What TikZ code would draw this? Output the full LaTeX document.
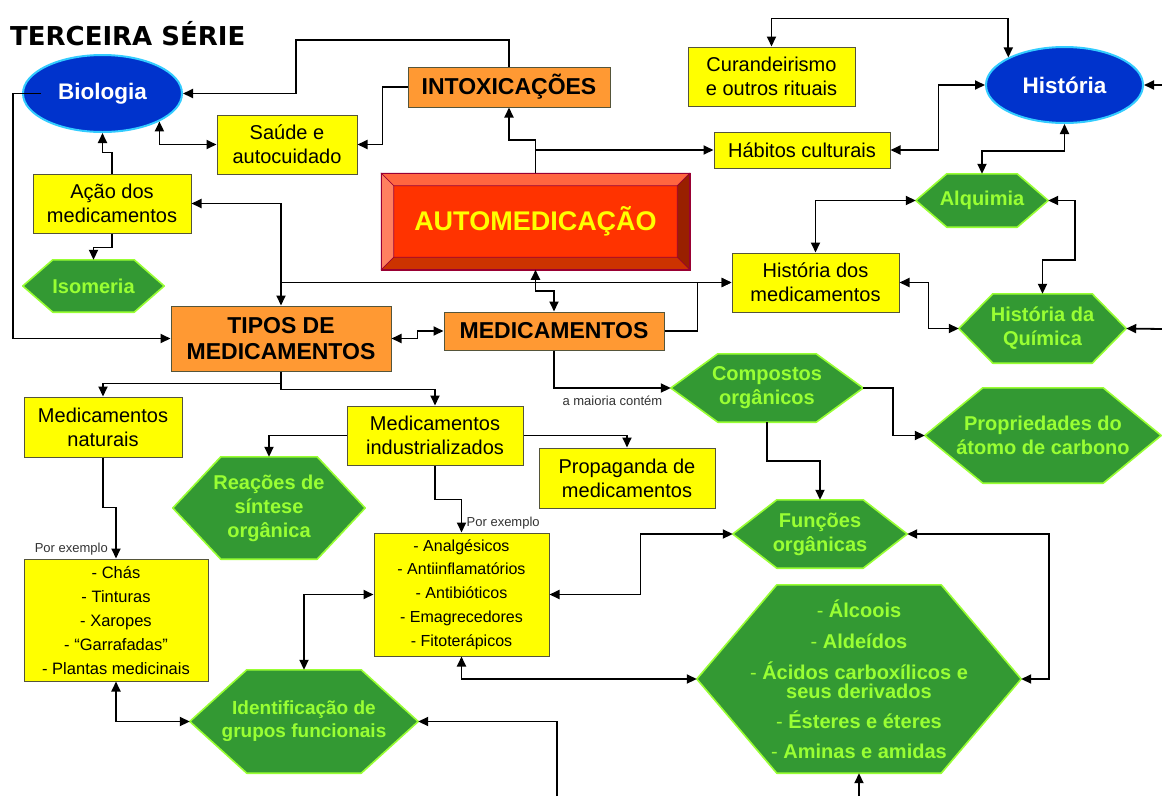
\documentclass[tikz,border=0pt]{standalone}
\usepackage{fontspec}
\setmainfont{Liberation Sans}
\newfontfamily\titlefont{DejaVu Sans}
\usepackage{tikz}
\usetikzlibrary{
  arrows.meta,
  positioning,
  shapes.geometric,
  calc,
  backgrounds
}
\usepackage{xcolor}
\definecolor{mapyellow}{HTML}{FFFF00}
\definecolor{maporange}{HTML}{FF9933}
\definecolor{mapblue}{HTML}{0033CC}
\definecolor{mapcyan}{HTML}{33CCFF}
\definecolor{hexfill}{HTML}{339933}
\definecolor{hexline}{HTML}{99FF33}
\definecolor{boxline}{HTML}{55553A}
\definecolor{autofill}{HTML}{FF3300}
\definecolor{autotop}{HTML}{FF6640}
\definecolor{autoleft}{HTML}{FF8060}
\definecolor{autoright}{HTML}{992000}
\definecolor{autobottom}{HTML}{CC3300}
\definecolor{autoline}{HTML}{990033}
\newcommand{\hexdash}{\textmd{-}}

\begin{document}
\begin{tikzpicture}[
  x=1pt, y=-1pt,
  every node/.style={font=\fontsize{20}{24}\selectfont},
  ybox/.style={draw=boxline, line width=1pt, fill=mapyellow, align=center, inner sep=1pt},
  listbox/.style={ybox, font=\fontsize{16.5}{24}\selectfont},
  obox/.style={draw=boxline, line width=1pt, fill=maporange, align=center, inner sep=1pt,
    font=\bfseries\fontsize{23}{26}\selectfont},
  oval/.style={ellipse, draw=mapcyan, line width=2pt, fill=mapblue, text=white, inner sep=0pt,
    font=\bfseries\fontsize{22.5}{26}\selectfont},
  hexa/.style={text=hexline, align=center, inner sep=0pt, font=\bfseries\fontsize{20}{24}\selectfont},
  hexline/.style={draw=hexline, line width=1.6pt, fill=hexfill, line join=round},
  lbl/.style={font=\fontsize{13}{15}\selectfont, text=black!80, inner sep=1pt},
  arr/.style={draw=black, line width=1.8pt, -{Triangle[length=10pt,width=9pt]}},
  arr2/.style={arr, {Triangle[length=10pt,width=9pt]}-{Triangle[length=10pt,width=9pt]}}
]
  \path[use as bounding box] (0,0) rectangle (1162,796);

  % title
  \node[anchor=west, inner sep=0pt, font=\titlefont\bfseries\fontsize{26}{30}\selectfont]
    (title) at (10,34) {TERCEIRA SÉRIE};

  % disciplines
  \node[oval, minimum width=159, minimum height=77] (bio) at (102.5,93.5) {Biologia};
  \node[oval, minimum width=157, minimum height=76] (hist) at (1064.5,85) {História};

  % central box
  \node[draw=autoline, line width=1.5pt, fill=autofill, minimum width=307, minimum height=95,
    text=mapyellow, font=\bfseries\fontsize{27}{30}\selectfont] (auto) at (535.5,221.5) {AUTOMEDICAÇÃO};
  \fill[autotop, draw=autoline, line width=0.6pt] (auto.north west) -- (auto.north east)
    -- ($(auto.north east)+(-12.5,12.5)$) -- ($(auto.north west)+(12.5,12.5)$) -- cycle;
  \fill[autoleft, draw=autoline, line width=0.6pt] (auto.north west) -- (auto.south west)
    -- ($(auto.south west)+(12.5,-12.5)$) -- ($(auto.north west)+(12.5,12.5)$) -- cycle;
  \fill[autoright, draw=autoline, line width=0.6pt] (auto.north east) -- (auto.south east)
    -- ($(auto.south east)+(-12.5,-12.5)$) -- ($(auto.north east)+(-12.5,12.5)$) -- cycle;
  \fill[autobottom, draw=autoline, line width=0.6pt] (auto.south west) -- (auto.south east)
    -- ($(auto.south east)+(-12.5,-12.5)$) -- ($(auto.south west)+(12.5,-12.5)$) -- cycle;
  \draw[autoline, line width=1.5pt] (auto.north west) rectangle (auto.south east);

  % orange boxes
  \node[obox, minimum width=202, minimum height=40] (intox) at (509,87) {INTOXICAÇÕES};
  \node[obox, minimum width=220, minimum height=65] (tipos) at (281,338.5) {TIPOS DE\\MEDICAMENTOS};
  \node[obox, minimum width=220, minimum height=38] (med) at (554,331) {MEDICAMENTOS};

  % yellow boxes
  \node[ybox, minimum width=140, minimum height=59] (saude) at (287,144.5) {Saúde e\\autocuidado};
  \node[ybox, minimum width=158, minimum height=59] (acao) at (112,203.5) {Ação dos\\medicamentos};
  \node[ybox, minimum width=167, minimum height=59] (cura) at (771.5,76.5) {Curandeirismo\\e outros rituais};
  \node[ybox, minimum width=176, minimum height=36] (habitos) at (802,150) {Hábitos culturais};
  \node[ybox, minimum width=167, minimum height=59] (hmed) at (815.5,282.5) {História dos\\medicamentos};
  \node[ybox, minimum width=158, minimum height=60] (mnat) at (103,427) {Medicamentos\\naturais};
  \node[ybox, minimum width=176, minimum height=59] (mind) at (435,435.5) {Medicamentos\\industrializados};
  \node[ybox, minimum width=176, minimum height=60] (propag) at (627,478) {Propaganda de\\medicamentos};
  \node[listbox, minimum width=184, minimum height=122] (chas) at (116,620)
    {- Chás\\- Tinturas\\- Xaropes\\- “Garrafadas”\\- Plantas medicinais};
  \node[listbox, minimum width=175, minimum height=123, font=\fontsize{16}{23.75}\selectfont]
    (analg) at (461.5,594.5)
    {- Analgésicos\\- Antiinflamatórios\\- Antibióticos\\- Emagrecedores\\- Fitoterápicos};

  % green hexagons (outline drawn behind)
  \node[hexa, minimum width=141, minimum height=52] (isom) at (93.5,286) {Isomeria};
  \node[hexa, minimum width=132, minimum height=53] (alq) at (982,200.5) {Alquimia};
  \node[hexa, minimum width=167, minimum height=69] (hq) at (1042.5,328.5) {História da\\Química};
  \node[hexa, minimum width=192, minimum height=68] (comp) at (767,388) {Compostos\\orgânicos};
  \node[hexa, minimum width=236, minimum height=95] (propr) at (1043,435.5) {Propriedades do\\átomo de carbono};
  \node[hexa, minimum width=174, minimum height=68] (func) at (820,534) {Funções\\orgânicas};
  \node[hexa, minimum width=192, minimum height=102] (reac) at (269,508) {Reações de\\síntese\\orgânica};
  \node[hexa, minimum width=228, minimum height=103, font=\bfseries\fontsize{19}{23}\selectfont]
    (ident) at (304,721.5) {Identificação de\\grupos funcionais};
  \node[hexa, minimum width=324, minimum height=188, font=\bfseries\fontsize{20}{19}\selectfont]
    (big) at (859,679)
    {\hexdash{} Álcoois\\[12pt]\hexdash{} Aldeídos\\[12pt]\hexdash{} Ácidos carboxílicos e\\seus derivados\\[11pt]\hexdash{} Ésteres e éteres\\[11pt]\hexdash{} Aminas e amidas};

  \begin{scope}[on background layer]
    \fill[white] (0,0) rectangle (1162,796);
    \foreach \hx/\cut in {isom/30, alq/31, hq/34, comp/47, propr/58, func/44, reac/48, ident/57, big/80} {
      \path[hexline] (\hx.west) -- ($(\hx.north west)+(\cut,0)$) -- ($(\hx.north east)+(-\cut,0)$)
        -- (\hx.east) -- ($(\hx.south east)+(-\cut,0)$) -- ($(\hx.south west)+(\cut,0)$) -- cycle;
    }
  \end{scope}

  % free ends at the border
  \coordinate (r1) at (1162,85);
  \coordinate (r2) at (1162,329);
  \coordinate (b1) at (859,796);
  \coordinate (b2) at (557,796);

  % connectors
  \draw[arr] (intox.north) |- (296,40) |- (bio.east);
  \draw[arr] (intox.west) -- ++(-25,0) |- (saude.east);
  \draw[arr2] (bio.south east) |- (saude.west);
  \draw[arr] (acao.north) -- ++(0,-21) -| (bio.south);
  \draw[arr] (acao.south) -- ++(0,14) -| (isom.north);
  \draw[arr] ([xshift=19pt]bio.west) -- ++(-28,0) |- (tipos.west);
  \draw[arr2] (acao.east) -| (tipos.north);
  \draw[arr] (tipos.north |- hmed.west) -- (hmed.west);
  \draw[arr2] (auto.south) -- ++(0,21) -| (med.north);
  \draw[arr] (med.east) -- ++(33,0) |- (hmed.west);
  \draw[arr] (auto.north) -- ++(0,-33) -| (intox.south);
  \draw[arr] (auto.north) |- (habitos.west);
  \draw[arr2] (habitos.east) -- ++(48,0) |- (hist.west);
  \draw[arr2] (cura.north) -- ++(0,-28) -| (hist.north west);
  \draw[arr2] (hist.south) -- ++(0,27) -| (alq.north);
  \draw[arr2] (alq.west) -| (hmed.north);
  \draw[arr2] (alq.east) -- ++(27,0) -- ++(0,59.5) -| (hq.north);
  \draw[arr2] (hmed.east) -- ++(29,0) |- (hq.west);
  \draw[arr] (r1) -- (hist.east);
  \draw[arr] (r2) -- (hq.east);
  \draw[arr2] (med.west) -- ++(-26,0) |- (tipos.east);
  \draw[arr] (tipos.south) -- ++(0,12) -| (mnat.north);
  \draw[arr] (tipos.south) -- ++(0,18) -| (mind.north);
  \draw[arr] (mnat.south) -- ++(0,50) -| (chas.north);
  \node[lbl, above left=2pt and 7pt of chas.north] (ex1) {Por exemplo};
  \draw[arr] (mind.west) -| (reac.north);
  \draw[arr] (mind.east) -| (propag.north);
  \draw[arr] (mind.south) -- ++(0,34) -| (analg.north);
  \node[lbl, above right=2pt and 4pt of analg.north] (ex2) {Por exemplo};
  \draw[arr2] (analg.east) -- ++(91,0) |- (func.west);
  \draw[arr2] (analg.west) -| (ident.north);
  \draw[arr2] (analg.south) |- (big.west);
  \draw[arr2] (chas.south) |- (ident.west);
  \draw[arr] (med.south) |- (comp.west) node[lbl, pos=0.75, below=6pt] (maior) {a maioria contém};
  \draw[arr] (comp.east) -- ++(30,0) |- (propr.west);
  \draw[arr] (comp.south) -- ++(0,39) -| (func.north);
  \draw[arr2] (func.east) -- ++(142,0) |- (big.east);
  \draw[arr] (b1) -- (big.south);
  \draw[arr] (b2) |- (ident.east);
\end{tikzpicture}
\end{document}
